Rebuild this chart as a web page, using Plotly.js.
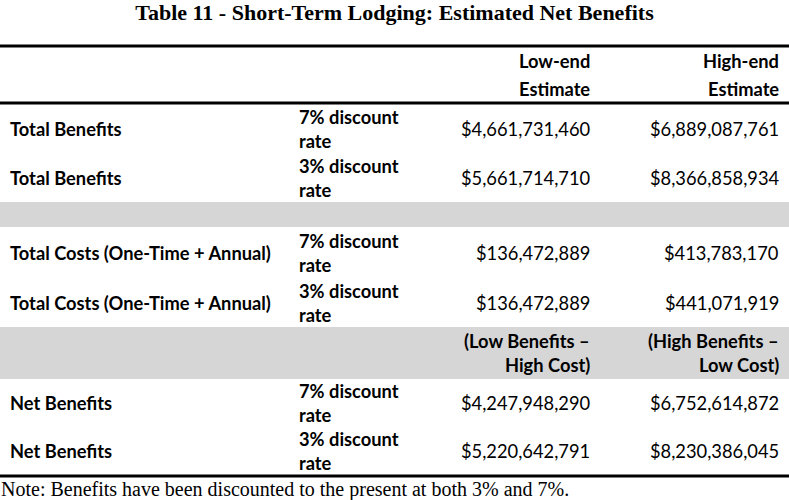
<!DOCTYPE html>
<html><head><meta charset="utf-8">
<script src="https://cdn.plot.ly/plotly-3.0.1.min.js"></script>
<style>html,body{margin:0;padding:0;background:#fff}#chart{width:789px;height:500px}</style>
</head><body><div id="chart"></div>
<script>
// ---- data ----
const titleText = 'Table 11 - Short-Term Lodging: Estimated Net Benefits';
const noteText = 'Note: Benefits have been discounted to the present at both 3% and 7%.';
const columnHeaders = ['', '', 'Low-end<br>Estimate', 'High-end<br>Estimate'];
const rowLabels = ['Total Benefits', 'Total Benefits', '', 'Total Costs (One-Time + Annual)', 'Total Costs (One-Time + Annual)', '', 'Net Benefits', 'Net Benefits'];
const discountRates = ['7% discount<br>rate', '3% discount<br>rate', '', '7% discount<br>rate', '3% discount<br>rate', '', '7% discount<br>rate', '3% discount<br>rate'];
const lowEndEstimate = ['$4,661,731,460', '$5,661,714,710', '', '$136,472,889', '$136,472,889', '(Low Benefits –<br>High Cost)', '$4,247,948,290', '$5,220,642,791'];
const highEndEstimate = ['$6,889,087,761', '$8,366,858,934', '', '$413,783,170', '$441,071,919', '(High Benefits –<br>Low Cost)', '$6,752,614,872', '$8,230,386,045'];
const shadedRows = [false, false, true, false, false, true, false, false];
const boldValueRows = [false, false, false, false, false, true, false, false];

// ---- layout constants (positions/styles) ----
const W = 789, H = 500;
const TOP = 46, HEADER_H = 57;
const ROW_H = [51, 48, 25, 52, 48, 52, 48, 48];
const colX = [8, 297, 592, 781];
const colAnchor = ['left', 'left', 'right', 'right'];
const bodyFont = {family: 'Lato, sans-serif', size: 18.3, color: '#000'};
const ROW_LINE = 24, HEADER_LINE = 28;
const SHADE = '#d6d6d6';

const annotations = [];
const shapes = [];

function addCell(text, col, center, spacing, bold) {
  if (!text) return;
  const lines = text.split('<br>');
  const n = lines.length;
  lines.forEach((ln, i) => {
    annotations.push({
      xref: 'x', yref: 'y', x: colX[col], y: center + (i - (n - 1) / 2) * spacing,
      xanchor: colAnchor[col], yanchor: 'middle', showarrow: false,
      text: bold ? '<b>' + ln + '</b>' : ln, font: bodyFont
    });
  });
}

// header
const headerCenter = TOP + HEADER_H / 2;
columnHeaders.forEach((t, c) => addCell(t, c, headerCenter, HEADER_LINE, true));

// body rows
let y = TOP + HEADER_H;
rowLabels.forEach((lbl, r) => {
  const h = ROW_H[r];
  const center = y + h / 2;
  if (shadedRows[r]) {
    shapes.push({type: 'rect', xref: 'x', yref: 'y', x0: 0, x1: W, y0: y, y1: y + h,
      fillcolor: SHADE, line: {width: 0}, layer: 'below'});
  }
  addCell(lbl, 0, center, ROW_LINE, true);
  addCell(discountRates[r], 1, center, ROW_LINE, true);
  addCell(lowEndEstimate[r], 2, center, ROW_LINE, boldValueRows[r]);
  addCell(highEndEstimate[r], 3, center, ROW_LINE, boldValueRows[r]);
  y += h;
});
const bottom = y;

// rules
[TOP, TOP + HEADER_H, bottom + 1].forEach(yy => {
  shapes.push({type: 'line', xref: 'x', yref: 'y', x0: 0, x1: W, y0: yy, y1: yy,
    line: {color: '#000', width: 3}});
});

// note
annotations.push({xref: 'paper', yref: 'paper', x: 0, y: 1 - 489 / H, xanchor: 'left', yanchor: 'middle',
  xshift: -1, showarrow: false, text: noteText,
  font: {family: '"Liberation Serif", "Times New Roman", serif', size: 20, color: '#000'}});

const layout = {
  width: W, height: H,
  margin: {l: 0, r: 0, t: 0, b: 0, pad: 0},
  paper_bgcolor: '#fff', plot_bgcolor: '#fff',
  showlegend: false,
  title: {text: '<b>' + titleText + '</b>', x: 0.5, xanchor: 'center', y: 1 - 12 / H, yanchor: 'middle',
    font: {family: '"Liberation Serif", "Times New Roman", serif', size: 22, color: '#000'}},
  xaxis: {range: [0, W], visible: false, fixedrange: true},
  yaxis: {range: [H, 0], visible: false, fixedrange: true},
  annotations: annotations,
  shapes: shapes
};

Plotly.newPlot('chart', [{type: 'scatter', x: [], y: [], hoverinfo: 'skip'}], layout, {displayModeBar: false, staticPlot: true});
</script>
</body></html>
